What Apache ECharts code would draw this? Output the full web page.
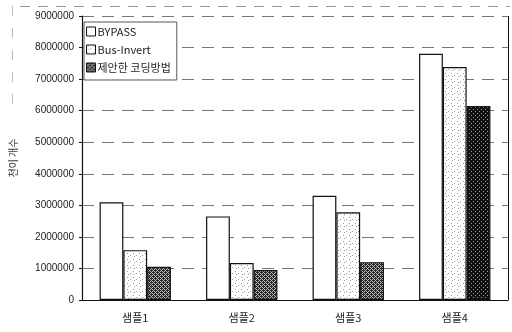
<!DOCTYPE html>
<html>
<head>
<meta charset="utf-8">
<script src="https://cdn.jsdelivr.net/npm/echarts@6/dist/echarts.min.js"></script>
<style>
  html, body { margin: 0; padding: 0; background: #fff; }
  #chart { width: 512px; height: 332px; }
</style>
</head>
<body>
<div id="chart"></div>
<script>
// Sample names and transition counts per coding scheme
const categories = ['샘플1', '샘플2', '샘플3', '샘플4'];
const seriesNames = ['BYPASS', 'Bus-Invert', '제안한 코딩방법'];
const bypass = [3100000, 2650000, 3300000, 7800000];
const busInvert = [1580000, 1170000, 2780000, 7380000];
const proposed = [1050000, 950000, 1200000, 6150000];
const yTicks = [0, 1000000, 2000000, 3000000, 4000000, 5000000, 6000000, 7000000, 8000000, 9000000];

// Small tiled fills imitating printed halftone hatches
function makePattern(size, painter) {
  const c = document.createElement('canvas');
  c.width = size; c.height = size;
  const ctx = c.getContext('2d');
  painter(ctx);
  return c;
}
const lightDots = makePattern(6, ctx => {
  ctx.fillStyle = '#ffffff'; ctx.fillRect(0, 0, 6, 6);
  ctx.fillStyle = '#9a9a9a';
  ctx.fillRect(1, 1, 1, 1); ctx.fillRect(4, 3, 1, 1); ctx.fillRect(2, 4, 1, 1);
});
const darkDots = makePattern(4, ctx => {
  ctx.fillStyle = '#b8b8b8'; ctx.fillRect(0, 0, 4, 4);
  ctx.fillStyle = '#2a2a2a';
  ctx.fillRect(0, 0, 1, 1); ctx.fillRect(2, 0, 1, 1);
  ctx.fillRect(1, 1, 1, 1); ctx.fillRect(3, 1, 1, 1);
  ctx.fillRect(0, 2, 1, 1); ctx.fillRect(2, 2, 1, 1);
  ctx.fillRect(1, 3, 1, 1); ctx.fillRect(3, 3, 1, 1);
  ctx.fillRect(1, 0, 1, 1); ctx.fillRect(3, 2, 1, 1);
});
const veryDark = makePattern(4, ctx => {
  ctx.fillStyle = '#111'; ctx.fillRect(0, 0, 4, 4);
  ctx.fillStyle = '#9a9a9a';
  ctx.fillRect(1, 1, 1, 1); ctx.fillRect(3, 3, 1, 1);
});

const fills = [
  '#ffffff',
  { image: lightDots, repeat: 'repeat' },
  { image: darkDots, repeat: 'repeat' }
];
const values = [bypass, busInvert, proposed];

const font = '"Noto Sans CJK KR", "Liberation Sans", sans-serif';

const chart = echarts.init(document.getElementById('chart'), null, { renderer: 'canvas' });

const series = seriesNames.map((name, i) => ({
  name: name,
  type: 'bar',
  barGap: '0%',
  barCategoryGap: '33%',
  data: values[i].map((v, j) => {
    const item = { value: v };
    if (i === 2 && j === 3) item.itemStyle = { color: { image: veryDark, repeat: 'repeat' } };
    return item;
  }),
  itemStyle: { color: fills[i], borderColor: '#111', borderWidth: 1.2 },
  emphasis: { disabled: true }
}));

chart.setOption({
  animation: false,
  backgroundColor: '#fff',
  textStyle: { fontFamily: font },
  grid: { left: 81, right: 4, top: 16, bottom: 32, containLabel: false, show: false },
  legend: {
    orient: 'vertical',
    left: 84, top: 22,
    itemWidth: 9, itemHeight: 9,
    itemGap: 7,
    padding: [4, 6, 7, 2],
    borderColor: '#555', borderWidth: 1,
    backgroundColor: '#fff',
    icon: 'rect',
    textStyle: { fontFamily: font, fontSize: 11, color: '#222', padding: [0, 0, 0, -3] },
    itemStyle: { borderColor: '#111', borderWidth: 1 },
    data: seriesNames
  },
  xAxis: {
    type: 'category',
    data: categories,
    axisLine: { lineStyle: { color: '#111', width: 1 } },
    axisTick: { show: false },
    axisLabel: { fontFamily: font, fontSize: 11, color: '#222', margin: 12 }
  },
  yAxis: {
    type: 'value',
    min: 0, max: 9000000, interval: 1000000,
    name: '천이 개수',
    nameLocation: 'middle',
    nameGap: 64,
    nameRotate: 90,
    nameTextStyle: { fontFamily: font, fontSize: 10, color: '#333' },
    axisLine: { show: true, lineStyle: { color: '#111', width: 1.2 } },
    axisTick: { show: true, length: 3, lineStyle: { color: '#111' } },
    axisLabel: {
      fontFamily: '"Liberation Sans", sans-serif', fontSize: 10, color: '#222', margin: 8,
      formatter: v => yTicks.includes(v) ? String(v) : ''
    },
    splitLine: { show: true, lineStyle: { color: '#777', width: 1, type: [12, 8] } }
  },
  graphic: [
    { type: 'line', shape: { x1: 508.5, y1: 16, x2: 508.5, y2: 300 }, style: { stroke: '#111', lineWidth: 1 }, z: 10 },
    { type: 'line', shape: { x1: 20, y1: 6.5, x2: 510, y2: 6.5 }, style: { stroke: '#999', lineWidth: 1, lineDash: [10, 8] } },
    { type: 'line', shape: { x1: 12.5, y1: 6, x2: 12.5, y2: 110 }, style: { stroke: '#bbb', lineWidth: 1, lineDash: [10, 12] } }
  ],
  series: series
});
</script>
</body>
</html>
